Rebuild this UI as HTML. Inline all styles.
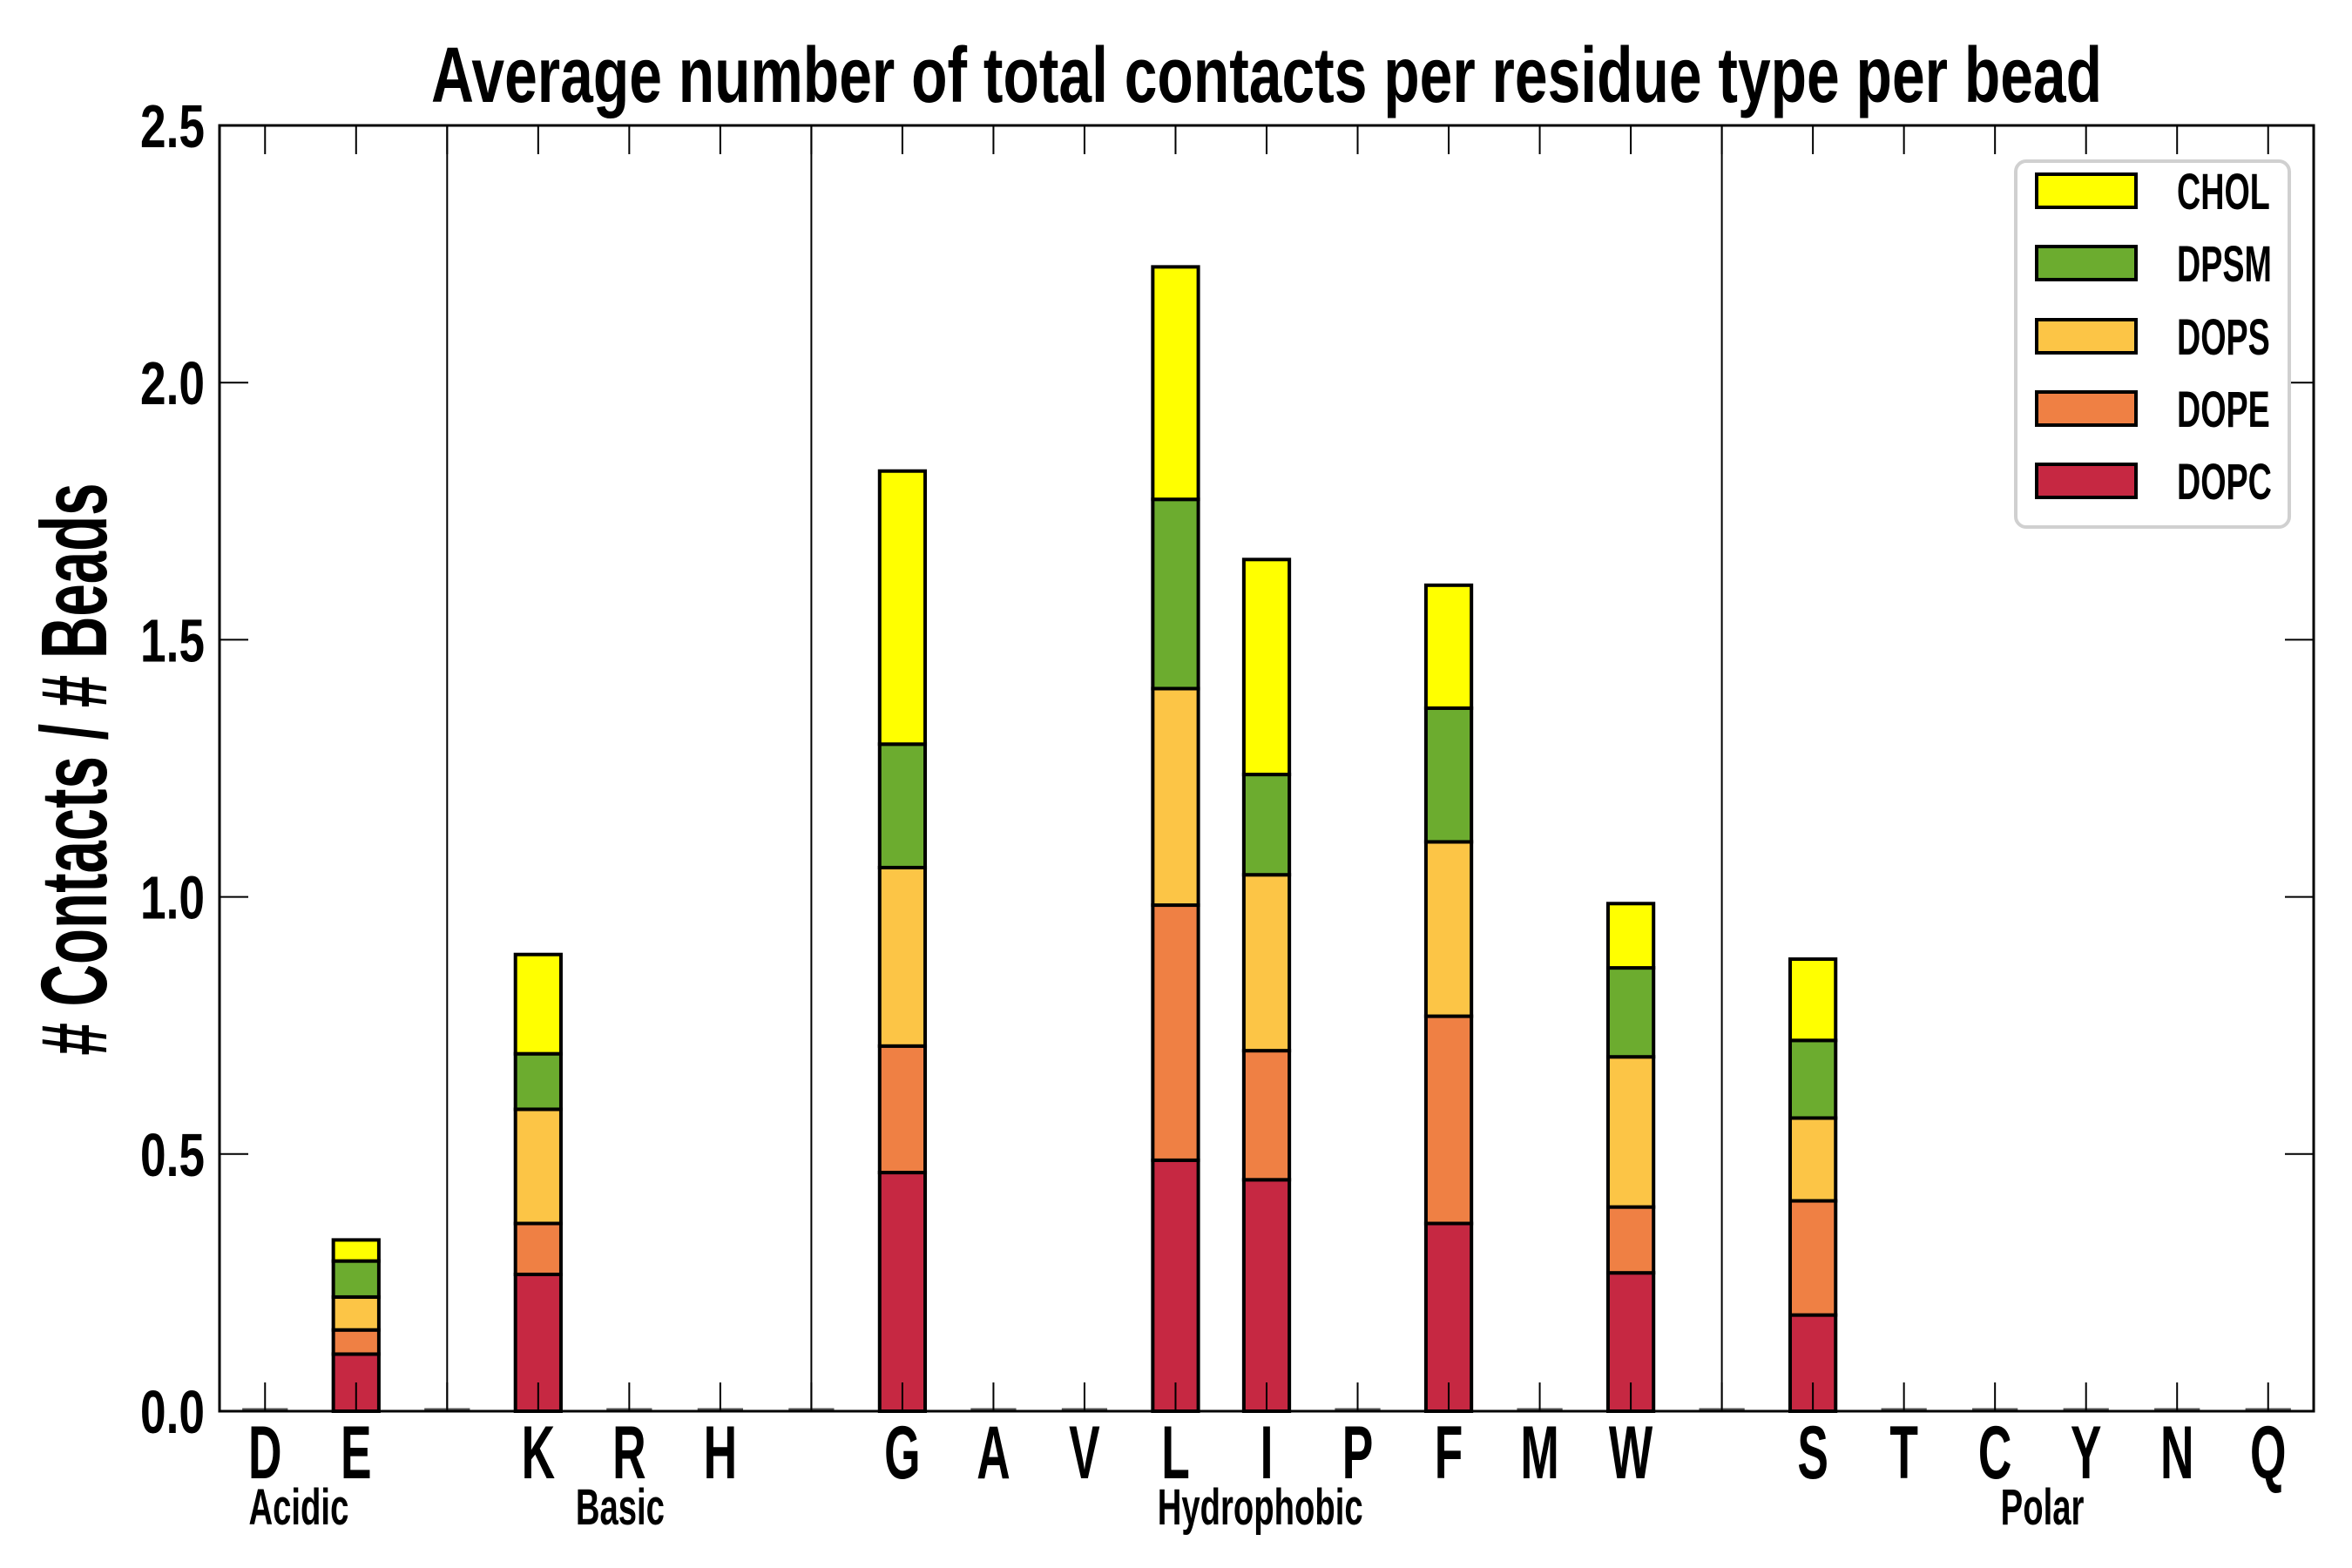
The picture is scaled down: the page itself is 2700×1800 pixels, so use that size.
<!DOCTYPE html>
<html><head><meta charset="utf-8"><style>
html,body{margin:0;padding:0;background:#fff;}
svg{display:block;}
text{font-family:"Liberation Sans Narrow","Liberation Sans",sans-serif;font-weight:bold;fill:#000;}
</style></head><body>
<svg id="chart" width="2700" height="1800" viewBox="0 0 2700 1800" xmlns="http://www.w3.org/2000/svg">
<text x="1454" y="117" font-size="90" text-anchor="middle" textLength="1918" lengthAdjust="spacingAndGlyphs">Average number of total contacts per residue type per bead</text>
<text transform="translate(122,883) rotate(-90)" font-size="108" text-anchor="middle" textLength="657" lengthAdjust="spacingAndGlyphs"># Contacts / # Beads</text>
<g id="plot"></g>
<g id="legend"></g>
</svg>
<script>
const categories = ["D","E","","K","R","H","","G","A","V","L","I","P","F","M","W","","S","T","C","Y","N","Q"];
const lipids = ["DOPC","DOPE","DOPS","DPSM","CHOL"];
const colors = ["#c62842","#ef8044","#fcc546","#6cac2f","#ffff00"];
const DOPC = [0,0.111,0,0.266,0,0,0,0.464,0,0,0.488,0.450,0,0.365,0,0.269,0,0.187,0,0,0,0,0];
const DOPE = [0,0.047,0,0.099,0,0,0,0.246,0,0,0.496,0.251,0,0.403,0,0.128,0,0.222,0,0,0,0,0];
const DOPS = [0,0.064,0,0.222,0,0,0,0.347,0,0,0.421,0.342,0,0.339,0,0.292,0,0.161,0,0,0,0,0];
const DPSM = [0,0.070,0,0.108,0,0,0,0.240,0,0,0.368,0.195,0,0.260,0,0.173,0,0.151,0,0,0,0,0];
const CHOL = [0,0.041,0,0.193,0,0,0,0.531,0,0,0.452,0.418,0,0.239,0,0.125,0,0.158,0,0,0,0,0];
const series = [DOPC, DOPE, DOPS, DPSM, CHOL];
const separators = [2,6,16];
const groupNames = ["Acidic","Basic","Hydrophobic","Polar"];
const groupCenters = [0.37,3.9,10.93,19.52];
const yTicks = [0,0.5,1.0,1.5,2.0,2.5];
const yTickLabels = ["0.0","0.5","1.0","1.5","2.0","2.5"];

const NS="http://www.w3.org/2000/svg";
const L=252,R=2656,T=144,B=1620,YMAX=2.5;
const slot=(R-L)/categories.length;
const x=i=>L+(i+0.5)*slot;
const y=v=>B-(v/YMAX)*(B-T);
const plot=document.getElementById('plot');
function mk(tag,attrs,parent){const e=document.createElementNS(NS,tag);for(const k in attrs)e.setAttribute(k,attrs[k]);(parent||plot).appendChild(e);return e;}
function txt(str,px,py,size,anchor,sx,parent){
  const t=mk('text',{x:0,y:0,'font-size':size,'text-anchor':anchor,transform:'translate('+px+','+py+') scale('+sx+',1)'},parent);
  t.textContent=str;
  return t;
}

separators.forEach(i=>{
  const l=mk('line',{x1:x(i),x2:x(i),y1:T,y2:B,stroke:'#000','stroke-width':2});
  
  
});
const bw=slot*0.5;
categories.forEach((c,i)=>{
  let base=0;
  const tot=series.reduce((s,a)=>s+a[i],0);
  if(tot===0){
    const z=mk('line',{x1:x(i)-bw/2,x2:x(i)+bw/2,y1:B-2,y2:B-2,stroke:'#555','stroke-width':3});
    
    
    return;
  }
  series.forEach((s,k)=>{
    const v=s[i];
    const r=mk('rect',{x:x(i)-bw/2,y:y(base+v),width:bw,height:y(base)-y(base+v),fill:colors[k],stroke:'#000','stroke-width':4});
    
    
    base+=v;
  });
});
categories.forEach((c,i)=>{
  mk('line',{x1:x(i),x2:x(i),y1:T,y2:T+33,stroke:'#000','stroke-width':2});
  mk('line',{x1:x(i),x2:x(i),y1:B,y2:B-33,stroke:'#000','stroke-width':2});
  if(c){
    const t=txt(c,x(i),1697,86,'middle',0.62);
    
    
  }
});
groupNames.forEach((g,j)=>{
  const t=txt(g,x(groupCenters[j]),1750,58,'middle',0.66);
  
  
});
yTicks.forEach((v,j)=>{
  mk('line',{x1:L,x2:L+33,y1:y(v),y2:y(v),stroke:'#000','stroke-width':2});
  mk('line',{x1:R,x2:R-33,y1:y(v),y2:y(v),stroke:'#000','stroke-width':2});
  const t=txt(yTickLabels[j],235,y(v)+25,70,'end',0.76);
  
  
});
const frame=mk('rect',{x:L,y:T,width:R-L,height:B-T,fill:'none',stroke:'#000','stroke-width':3});



const lg=document.getElementById('legend');
const box=mk('rect',{x:2314,y:185,width:314,height:420,rx:12,fill:'#fff',stroke:'#d0d0d0','stroke-width':4},lg);


const rowsY=[219,302,386,469,552];
for(let k=4;k>=0;k--){
  const yy=rowsY[4-k];
  const p=mk('rect',{x:2338,y:yy-19,width:114,height:38,fill:colors[k],stroke:'#000','stroke-width':4},lg);
  
  
  const t=txt(lipids[k],2499,yy+21,58,'start',0.65,lg);
  
  
}
</script>
</body></html>
